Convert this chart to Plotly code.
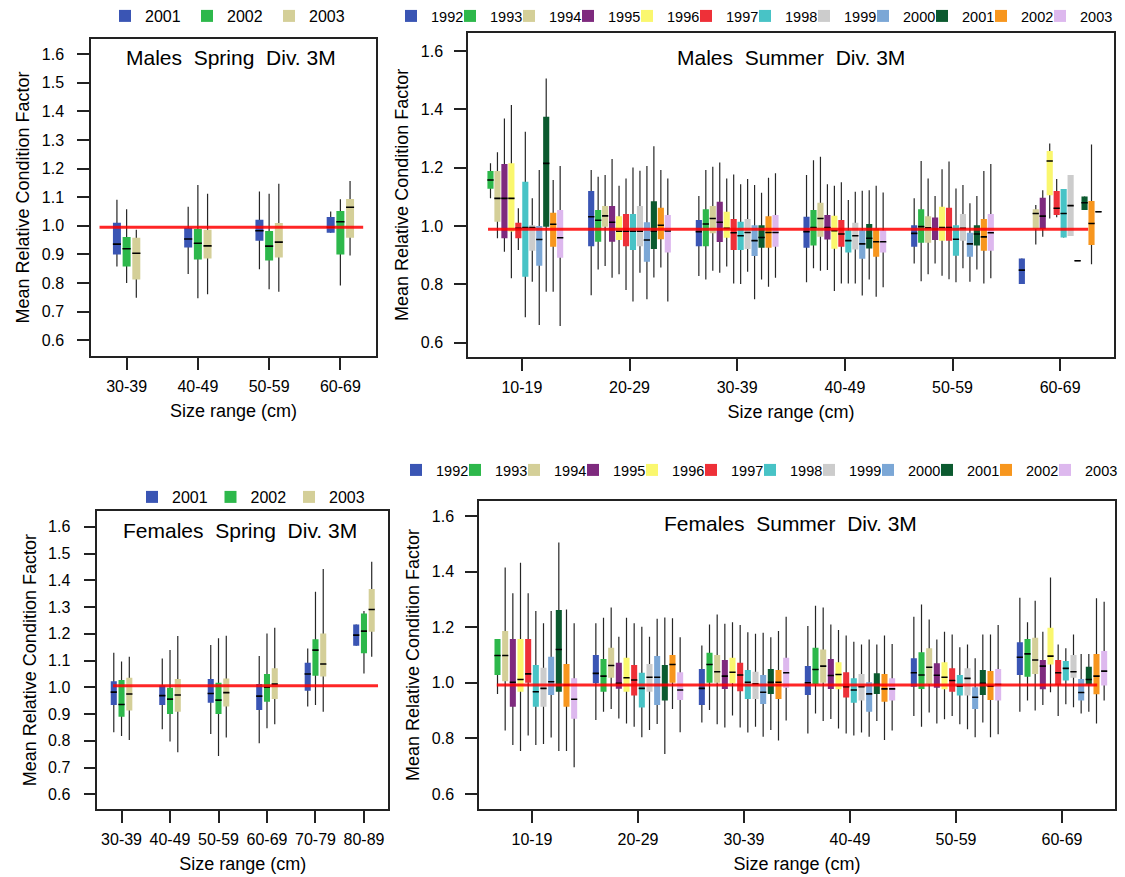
import plotly.graph_objects as go

FONT = "Liberation Sans, Arial, Helvetica, sans-serif"

# ---------------- categories / years / colours ----------------
M_SPRING_SIZES = ["30-39", "40-49", "50-59", "60-69"]
F_SPRING_SIZES = ["30-39", "40-49", "50-59", "60-69", "70-79", "80-89"]
SUMMER_SIZES = ["10-19", "20-29", "30-39", "40-49", "50-59", "60-69"]

SPRING_YEARS = ["2001", "2002", "2003"]
SUMMER_YEARS = ["1992", "1993", "1994", "1995", "1996", "1997",
                "1998", "1999", "2000", "2001", "2002", "2003"]

SPRING_COLORS = ["#3A55B4", "#2DB84B", "#D4CF98"]
SUMMER_COLORS = ["#3A55B4", "#2DB84B", "#D4CF98", "#7E2A7E", "#FAF76E", "#EE3038",
                 "#48C3C6", "#CCCCCC", "#7BA7D6", "#0B5A2F", "#F7961E", "#DDB8EE"]

# reference level (red line) per panel: males spring, males summer, females spring, females summer
REF_LEVELS = [0.995, 0.989, 1.006, 0.992]

# ---------------- Males Spring (rows = years, cols = sizes) ----------------
MSP_LOW = [[0.858, 0.832, 0.848, 0.976],
           [0.800, 0.747, 0.778, 0.791],
           [0.749, 0.761, 0.770, 0.896]]
MSP_Q1 = [[0.900, 0.924, 0.948, 0.976],
          [0.858, 0.882, 0.879, 0.900],
          [0.812, 0.886, 0.889, 0.958]]
MSP_MED = [[0.936, 0.954, 0.983, 0.995],
           [0.920, 0.939, 0.929, 1.014],
           [0.904, 0.930, 0.943, 1.065]]
MSP_Q3 = [[1.011, 0.993, 1.021, 1.031],
          [0.961, 0.989, 0.982, 1.052],
          [0.958, 0.986, 1.010, 1.094]]
MSP_HIGH = [[1.091, 1.067, 1.120, 1.050],
            [1.058, 1.143, 1.112, 1.093],
            [0.986, 1.112, 1.147, 1.157]]

# ---------------- Females Spring ----------------
FSP_LOW = [[0.832, 0.843, 0.825, 0.791, 0.928, 1.155],
           [0.818, 0.797, 0.743, 0.847, 0.934, 1.052],
           [0.803, 0.757, 0.812, 0.862, 0.909, 1.114]]
FSP_Q1 = [[0.934, 0.934, 0.942, 0.915, 0.987, 1.155],
          [0.890, 0.900, 0.900, 0.946, 1.043, 1.127],
          [0.913, 0.909, 0.928, 0.956, 1.040, 1.208]]
FSP_MED = [[0.982, 0.969, 0.977, 0.967, 1.050, 1.195],
           [0.936, 0.956, 0.952, 1.000, 1.139, 1.210],
           [0.975, 0.971, 0.980, 1.012, 1.087, 1.291]]
FSP_Q3 = [[1.023, 1.008, 1.031, 1.012, 1.092, 1.235],
          [1.027, 0.998, 1.017, 1.050, 1.180, 1.276],
          [1.036, 1.031, 1.033, 1.071, 1.201, 1.367]]
FSP_HIGH = [[1.129, 1.108, 1.158, 1.117, 1.145, 1.235],
            [1.096, 1.139, 1.183, 1.201, 1.357, 1.285],
            [1.114, 1.192, 1.193, 1.223, 1.442, 1.469]]

# ---------------- Males Summer (rows = 1992..2003) ----------------
MSU_LOW = [[None, 0.763, 0.829, 0.807, 0.872, 0.801],
           [1.095, 0.851, 0.817, 0.855, 0.811, None],
           [0.958, 0.863, 0.847, 0.847, 0.835, 0.937],
           [0.912, 0.823, 0.840, 0.849, 0.872, 0.963],
           [0.821, 0.835, 0.861, 0.777, 0.830, 1.026],
           [0.918, 0.781, 0.803, 0.803, 0.818, 1.030],
           [0.687, 0.741, 0.801, 0.803, 0.807, 0.961],
           [0.809, 0.840, 0.843, 0.803, 0.855, 0.966],
           [0.661, 0.749, 0.749, 0.762, 0.809, 0.881],
           [0.775, 0.824, 0.817, 0.817, 0.851, 1.055],
           [0.775, 0.858, 0.792, 0.758, 0.803, 0.869],
           [0.657, 0.741, 0.823, 0.790, 0.821, 1.049]]
MSU_Q1 = [[None, 0.931, 0.931, 0.926, 0.929, 0.801],
          [1.128, 0.946, 0.931, 0.933, 0.943, None],
          [1.015, 0.998, 0.975, 0.963, 0.943, 0.990],
          [0.958, 0.946, 0.945, 0.954, 0.952, 0.990],
          [0.981, 0.952, 0.960, 0.922, 0.950, 1.106],
          [0.958, 0.931, 0.918, 0.929, 0.950, 1.038],
          [0.826, 0.918, 0.918, 0.909, 0.898, 0.961],
          [0.915, 0.931, 0.921, 0.920, 0.950, 0.966],
          [0.864, 0.878, 0.897, 0.888, 0.895, 0.881],
          [0.998, 0.921, 0.926, 0.923, 0.933, 1.055],
          [0.929, 0.955, 0.926, 0.895, 0.915, 0.935],
          [0.891, 0.909, 0.929, 0.909, 0.915, 1.049]]
MSU_MED = [[None, 1.032, 0.981, 0.981, 0.975, 0.849],
           [1.158, 1.020, 1.007, 0.995, 0.998, None],
           [1.095, 1.035, 1.026, 1.026, 0.994, 1.043],
           [1.095, 1.013, 1.013, 0.995, 0.990, 1.034],
           [1.095, 0.982, 0.992, 0.984, 0.995, 1.223],
           [0.992, 0.982, 0.977, 0.973, 0.995, 1.061],
           [0.995, 0.982, 0.967, 0.950, 0.955, 1.043],
           [0.995, 0.982, 0.978, 0.967, 0.992, 1.070],
           [0.954, 0.952, 0.950, 0.939, 0.939, 0.881],
           [1.215, 0.982, 0.961, 0.958, 0.973, 1.080],
           [1.006, 1.003, 0.978, 0.946, 0.963, 1.009],
           [0.960, 0.983, 0.978, 0.946, 0.977, 1.049]]
MSU_Q3 = [[None, 1.120, 1.021, 1.032, 1.003, 0.889],
          [1.189, 1.055, 1.058, 1.055, 1.058, None],
          [1.189, 1.069, 1.069, 1.080, 1.034, 1.058],
          [1.213, 1.069, 1.083, 1.038, 1.029, 1.097],
          [1.215, 1.034, 1.049, 1.035, 1.066, 1.257],
          [1.011, 1.041, 1.024, 1.021, 1.063, 1.120],
          [1.152, 1.041, 1.015, 0.986, 1.003, 1.127],
          [1.003, 1.069, 1.024, 1.011, 1.041, 1.175],
          [1.000, 1.013, 1.003, 0.986, 0.977, 0.881],
          [1.375, 1.085, 1.003, 1.007, 1.003, 1.101],
          [1.046, 1.063, 1.034, 0.992, 1.024, 1.086],
          [1.055, 1.038, 1.038, 0.986, 1.041, 1.049]]
MSU_HIGH = [[None, 1.192, 1.103, 1.175, 1.095, 0.889],
            [1.215, 1.169, 1.192, 1.226, 1.223, None],
            [1.253, 1.175, 1.203, 1.238, 1.163, 1.072],
            [1.369, 1.230, 1.218, 1.143, 1.103, 1.123],
            [1.415, 1.138, 1.163, 1.138, 1.195, 1.283],
            [1.061, 1.163, 1.177, 1.150, 1.221, 1.161],
            [1.323, 1.201, 1.143, 1.089, 1.129, 1.127],
            [1.095, 1.190, 1.161, 1.118, 1.141, 1.175],
            [1.192, 1.206, 1.141, 1.121, 1.078, 0.881],
            [1.506, 1.274, 1.114, 1.123, 1.103, 1.101],
            [1.158, 1.192, 1.166, 1.138, 1.189, 1.280],
            [1.206, 1.163, 1.181, 1.115, 1.213, 1.049]]

# ---------------- Females Summer ----------------
FSU_LOW = [[None, 0.866, 0.857, 0.818, 0.881, 0.896],
           [0.960, 0.896, 0.902, 0.890, 0.842, 0.936],
           [0.828, 0.906, 0.851, 0.863, 0.893, 0.900],
           [0.776, 0.872, 0.839, 0.870, 0.854, 0.920],
           [0.755, 0.854, 0.882, 0.836, 0.869, 0.966],
           [0.810, 0.842, 0.839, 0.818, 0.881, 0.881],
           [0.776, 0.804, 0.821, 0.810, 0.851, 0.923],
           [0.780, 0.830, 0.842, 0.821, 0.833, 0.912],
           [0.803, 0.852, 0.806, 0.806, 0.804, 0.890],
           [0.755, 0.744, 0.830, 0.863, 0.857, 0.896],
           [0.755, 0.906, 0.792, 0.794, 0.804, 0.854],
           [0.696, 0.822, 0.864, 0.828, 0.815, 0.936]]
FSU_Q1 = [[None, 0.998, 0.920, 0.956, 0.986, 1.028],
          [1.028, 0.968, 1.000, 0.996, 0.978, 1.022],
          [1.006, 1.018, 1.000, 1.000, 0.996, 1.032],
          [0.914, 0.979, 0.978, 0.978, 0.982, 0.977],
          [0.968, 0.968, 0.998, 0.977, 0.977, 1.066],
          [1.000, 0.954, 0.970, 0.947, 0.968, 0.992],
          [0.914, 0.911, 0.942, 0.928, 0.954, 1.008],
          [0.914, 0.968, 0.942, 0.936, 0.954, 1.018],
          [0.956, 0.920, 0.924, 0.896, 0.906, 0.936],
          [0.968, 0.936, 0.960, 0.960, 0.956, 0.994],
          [0.914, 1.000, 0.942, 0.932, 0.938, 0.959],
          [0.871, 0.938, 0.982, 0.936, 0.936, 0.990]]
FSU_MED = [[None, 1.034, 0.980, 1.000, 1.036, 1.092],
           [1.098, 1.024, 1.066, 1.048, 1.028, 1.104],
           [1.098, 1.062, 1.040, 1.060, 1.056, 1.082],
           [1.002, 0.998, 1.024, 1.026, 1.027, 1.060],
           [1.012, 1.018, 1.038, 1.030, 1.020, 1.096],
           [1.032, 1.010, 1.028, 0.986, 1.008, 1.036],
           [0.968, 0.980, 1.002, 0.974, 0.988, 1.052],
           [0.980, 1.020, 0.996, 0.986, 1.016, 1.040],
           [1.004, 1.020, 0.966, 0.960, 0.948, 0.965],
           [1.120, 0.992, 1.002, 0.994, 0.998, 1.012],
           [0.992, 1.066, 1.002, 0.978, 0.988, 1.024],
           [0.941, 0.974, 1.036, 0.978, 0.994, 1.042]]
FSU_Q3 = [[None, 1.100, 1.050, 1.060, 1.088, 1.146],
          [1.158, 1.086, 1.108, 1.126, 1.110, 1.158],
          [1.186, 1.126, 1.100, 1.120, 1.124, 1.162],
          [1.158, 1.072, 1.082, 1.086, 1.070, 1.082],
          [1.158, 1.090, 1.090, 1.074, 1.074, 1.198],
          [1.158, 1.064, 1.072, 1.038, 1.052, 1.082],
          [1.064, 1.036, 1.046, 1.016, 1.028, 1.078],
          [1.054, 1.068, 1.040, 1.032, 1.052, 1.100],
          [1.094, 1.096, 1.028, 1.002, 0.984, 1.014],
          [1.262, 1.064, 1.050, 1.034, 1.046, 1.058],
          [1.068, 1.100, 1.046, 1.032, 1.042, 1.104],
          [1.016, 1.038, 1.090, 1.016, 1.050, 1.114]]
FSU_HIGH = [[None, 1.214, 1.134, 1.204, 1.238, 1.306],
            [1.158, 1.234, 1.210, 1.277, 1.282, 1.218],
            [1.415, 1.271, 1.246, 1.271, 1.228, 1.295],
            [1.322, 1.166, 1.212, 1.210, 1.156, 1.184],
            [1.432, 1.234, 1.218, 1.190, 1.184, 1.379],
            [1.322, 1.214, 1.208, 1.170, 1.174, 1.138],
            [1.258, 1.202, 1.182, 1.148, 1.128, 1.124],
            [1.214, 1.166, 1.176, 1.138, 1.138, 1.174],
            [1.258, 1.230, 1.180, 1.156, 1.088, 1.104],
            [1.505, 1.235, 1.164, 1.138, 1.174, 1.104],
            [1.264, 1.232, 1.186, 1.170, 1.174, 1.304],
            [1.214, 1.164, 1.238, 1.140, 1.208, 1.292]]

fig = go.Figure()


def add_panel(ax, years, colors, low, q1, med, q3, high, slot, bw, legend_name, last_w):
    xa, ya = "x" + ax, "y" + ax
    n = len(years)
    common = dict(xaxis=xa, yaxis=ya, width=bw, boxpoints=False, hoverinfo="skip",
                  whiskerwidth=0)
    for layer in ("whisker", "box", "median"):
        for j, year in enumerate(years):
            idx = [i for i, v in enumerate(med[j]) if v is not None]
            if not idx:
                continue
            xs = [i + (j - (n - 1) / 2) * slot for i in idx]
            lo = [low[j][i] for i in idx]
            a = [q1[j][i] for i in idx]
            m = [med[j][i] for i in idx]
            b = [q3[j][i] for i in idx]
            hi = [high[j][i] for i in idx]
            if layer == "whisker":
                fig.add_trace(go.Box(x=xs, q1=m, median=m, q3=m, lowerfence=lo, upperfence=hi,
                                     line=dict(color="#262626", width=1.2),
                                     fillcolor="rgba(0,0,0,0)", showlegend=False, **common))
            elif layer == "box":
                extra = {"legendwidth": last_w} if (j == n - 1 and last_w) else {}
                fig.add_trace(go.Box(x=xs, q1=a, median=m, q3=b, lowerfence=a, upperfence=b,
                                     name=year, legend=legend_name,
                                     line=dict(color=colors[j], width=0),
                                     fillcolor=colors[j], showlegend=True, **common, **extra))
            else:
                fig.add_trace(go.Box(x=xs, q1=m, median=m, q3=m, lowerfence=m, upperfence=m,
                                     line=dict(color="black", width=1.6),
                                     fillcolor="rgba(0,0,0,0)", showlegend=False, **common))


add_panel("", SPRING_YEARS, SPRING_COLORS, MSP_LOW, MSP_Q1, MSP_MED, MSP_Q3, MSP_HIGH,
          0.136, 0.112, "legend", None)
add_panel("2", SUMMER_YEARS, SUMMER_COLORS, MSU_LOW, MSU_Q1, MSU_MED, MSU_Q3, MSU_HIGH,
          0.0647, 0.057, "legend2", 32)
add_panel("3", SPRING_YEARS, SPRING_COLORS, FSP_LOW, FSP_Q1, FSP_MED, FSP_Q3, FSP_HIGH,
          0.16, 0.125, "legend3", None)
add_panel("4", SUMMER_YEARS, SUMMER_COLORS, FSU_LOW, FSU_Q1, FSU_MED, FSU_Q3, FSU_HIGH,
          0.0723, 0.057, "legend4", 30)

AX_LINE = "#222222"


def xaxis_cfg(domain, cats):
    return dict(domain=domain, range=[-0.5, len(cats) - 0.5],
                tickmode="array", tickvals=list(range(len(cats))), ticktext=cats,
                showline=True, mirror=True, linecolor=AX_LINE, linewidth=1.5,
                ticks="outside", ticklen=12, tickwidth=1.5, tickcolor=AX_LINE,
                ticklabelstandoff=3,
                showgrid=False, zeroline=False,
                tickfont=dict(size=16, color="black", family=FONT),
                title=dict(text="Size range (cm)", font=dict(size=18, color="black", family=FONT),
                           standoff=10))


def yaxis_cfg(domain, rng, dtick, anchor, lab_off):
    return dict(domain=domain, range=rng, anchor=anchor, tick0=0.6, dtick=dtick, tickformat=".1f",
                showline=True, mirror=True, linecolor=AX_LINE, linewidth=1.5,
                ticks="outside", ticklen=12, tickwidth=1.5, tickcolor=AX_LINE,
                ticklabelstandoff=lab_off,
                showgrid=False, zeroline=False,
                tickfont=dict(size=16, color="black", family=FONT),
                title=dict(text="Mean Relative Condition Factor",
                           font=dict(size=18, color="black", family=FONT), standoff=7))


W, H = 1125, 877


def dom_x(a, b):
    return [a / W, b / W]


def dom_y(top, bottom):
    return [1 - bottom / H, 1 - top / H]


layout = dict(
    width=W, height=H, margin=dict(l=0, r=0, t=0, b=0, autoexpand=False),
    paper_bgcolor="white", plot_bgcolor="white",
    font=dict(family=FONT, color="black"),
    boxmode="overlay",
    xaxis=dict(xaxis_cfg(dom_x(91, 376), M_SPRING_SIZES), anchor="y"),
    yaxis=yaxis_cfg(dom_y(39, 356), [0.545, 1.653], 0.1, "x", 10),
    xaxis2=dict(xaxis_cfg(dom_x(468, 1114), SUMMER_SIZES), anchor="y2"),
    yaxis2=yaxis_cfg(dom_y(32.7, 357), [0.551, 1.663], 0.2, "x2", 8),
    xaxis3=dict(xaxis_cfg(dom_x(97.3, 388.2), F_SPRING_SIZES), anchor="y3"),
    yaxis3=yaxis_cfg(dom_y(511, 809.3), [0.544, 1.659], 0.1, "x3", 10),
    xaxis4=dict(xaxis_cfg(dom_x(479, 1115), SUMMER_SIZES), anchor="y4"),
    yaxis4=yaxis_cfg(dom_y(501, 809), [0.546, 1.654], 0.2, "x4", 8),
)


def legend_cfg(x_px, y_px, entry, size):
    return dict(orientation="h", x=x_px / W, y=1 - y_px / H, xanchor="left", yanchor="middle",
                entrywidth=entry, entrywidthmode="pixels", bgcolor="rgba(0,0,0,0)",
                font=dict(size=size, color="black", family=FONT), traceorder="normal",
                itemclick=False, itemdoubleclick=False)


layout["legend"] = legend_cfg(105, 16, 37, 16)
layout["legend2"] = legend_cfg(391, 16, 14, 14.5)
layout["legend3"] = legend_cfg(132, 497, 33.5, 16)
layout["legend4"] = legend_cfg(396, 470, 14, 14.5)

fig.update_layout(**layout)

# red reference lines
for k, (ax, x0, x1) in enumerate([("", 0.03, 0.955), ("2", 0.031, 0.96),
                                   ("3", 0.054, 0.965), ("4", 0.028, 0.972)]):
    fig.add_shape(type="line", xref=("x" + ax + " domain"), yref=("y" + ax),
                  x0=x0, x1=x1, y0=REF_LEVELS[k], y1=REF_LEVELS[k],
                  line=dict(color="rgba(255,0,0,0.85)", width=3), layer="above")

# panel titles
TITLES = [("", "Males\u00a0 Spring\u00a0 Div. 3M", 0.49, 0.943),
          ("2", "Males\u00a0 Summer\u00a0 Div. 3M", 0.5, 0.922),
          ("3", "Females\u00a0 Spring\u00a0 Div. 3M", 0.49, 0.936),
          ("4", "Females\u00a0 Summer\u00a0 Div. 3M", 0.49, 0.928)]
for ax, txt, tx, ty in TITLES:
    fig.add_annotation(text=txt, xref="x" + ax + " domain", yref="y" + ax + " domain",
                       x=tx, y=ty, xanchor="center", yanchor="middle", showarrow=False,
                       font=dict(size=21, color="black", family=FONT))

fig.write_html("out.html", config={"displayModeBar": False},
               post_script="document.body.style.margin='0px';document.body.style.padding='0px';")
